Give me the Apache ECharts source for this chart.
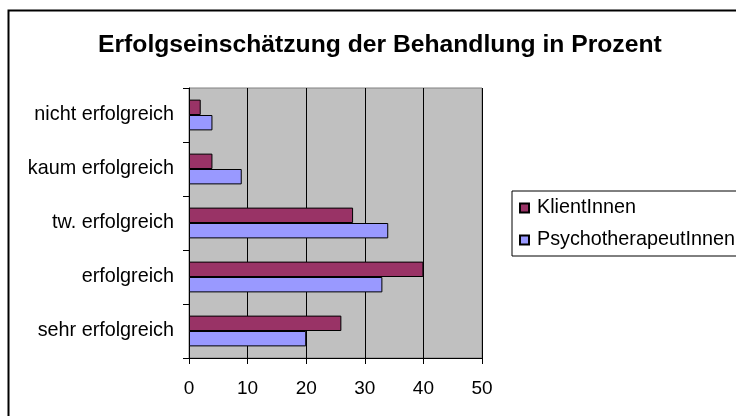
<!DOCTYPE html>
<html>
<head>
<meta charset="utf-8">
<script src="https://cdn.jsdelivr.net/npm/echarts@6/dist/echarts.min.js"></script>
<style>
html,body{margin:0;padding:0;background:#fff;}
#chart{width:736px;height:416px;}
</style>
</head>
<body>
<div id="chart"></div>
<script>
const titleText = 'Erfolgseinschätzung der Behandlung in Prozent';
const categories = ['sehr erfolgreich', 'erfolgreich', 'tw. erfolgreich', 'kaum erfolgreich', 'nicht erfolgreich'];
const seriesNames = ['KlientInnen', 'PsychotherapeutInnen'];
const klientInnen = [26, 40, 28, 4, 2];
const psychotherapeutInnen = [20, 33, 34, 9, 4];
const xTicks = [0, 10, 20, 30, 40, 50];

const FONT = '"Liberation Sans", Arial, sans-serif';
const chart = echarts.init(document.getElementById('chart'), null, {renderer: 'canvas'});
chart.setOption({
  animation: false,
  backgroundColor: '#ffffff',
  textStyle: {fontFamily: FONT, color: '#000'},
  title: {
    text: titleText,
    left: 93,
    top: 28,
    textStyle: {fontFamily: FONT, fontSize: 24.7, fontWeight: 'bold', color: '#000'}
  },
  graphic: [{
    type: 'rect',
    shape: {x: 8.5, y: 10.5, width: 760, height: 440},
    style: {fill: 'none', stroke: '#000', lineWidth: 2},
    silent: true
  }],
  legend: {
    data: seriesNames,
    orient: 'vertical',
    left: 512,
    top: 191,
    padding: [7, 40, 6, 7],
    itemGap: 12,
    itemWidth: 9,
    itemHeight: 9,
    icon: 'rect',
    borderColor: '#000',
    borderWidth: 1,
    backgroundColor: '#fff',
    textStyle: {fontFamily: FONT, fontSize: 19.8, color: '#000', lineHeight: 20, padding: [0, 0, 0, 3]}
  },
  grid: {
    left: 189, right: 254, top: 88, bottom: 58,
    show: true,
    backgroundColor: '#C0C0C0',
    borderColor: '#808080',
    borderWidth: 1
  },
  xAxis: {
    type: 'value',
    min: xTicks[0],
    max: xTicks[xTicks.length - 1],
    interval: 10,
    axisLine: {show: true, lineStyle: {color: '#000', width: 1}},
    axisTick: {show: true, inside: false, length: 6, lineStyle: {color: '#000'}},
    axisLabel: {fontFamily: FONT, fontSize: 19, color: '#000', margin: 21},
    splitLine: {show: true, lineStyle: {color: '#000', width: 1}}
  },
  yAxis: {
    type: 'category',
    data: categories,
    axisLine: {show: true, lineStyle: {color: '#000', width: 1}},
    axisTick: {show: true, inside: false, length: 6, lineStyle: {color: '#000'}},
    axisLabel: {fontFamily: FONT, fontSize: 19.8, color: '#000', margin: 15},
    splitLine: {show: false}
  },
  series: [
    {
      name: seriesNames[0],
      type: 'bar',
      data: klientInnen,
      barGap: '0%',
      barCategoryGap: '43%',
      itemStyle: {color: '#993366', borderColor: '#000', borderWidth: 1}
    },
    {
      name: seriesNames[1],
      type: 'bar',
      data: psychotherapeutInnen,
      barGap: '0%',
      barCategoryGap: '43%',
      itemStyle: {color: '#9999FF', borderColor: '#000', borderWidth: 1}
    }
  ]
});
</script>
</body>
</html>
